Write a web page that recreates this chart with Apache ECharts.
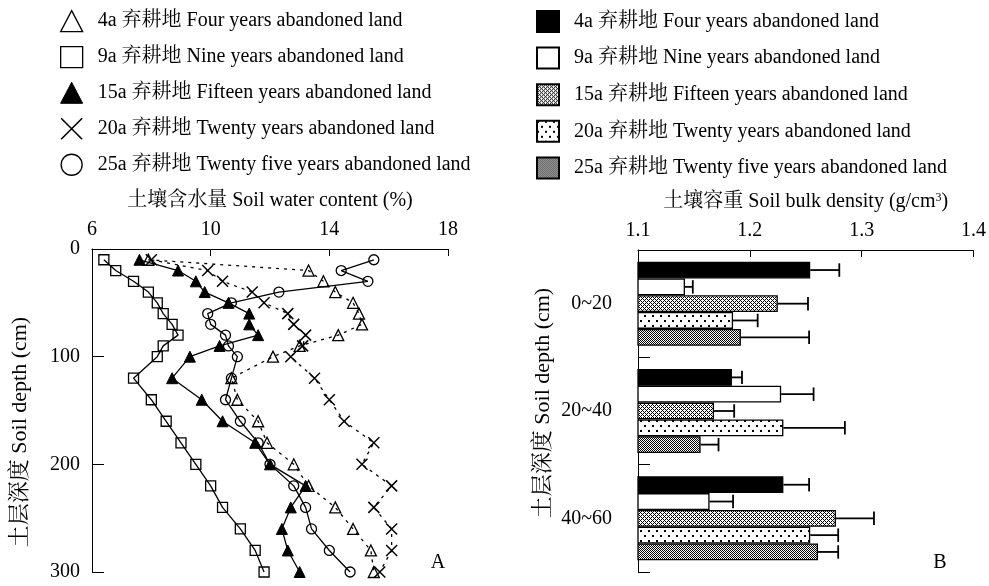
<!DOCTYPE html>
<html><head><meta charset="utf-8">
<script src="https://cdn.jsdelivr.net/npm/echarts@6/dist/echarts.min.js"></script>
<style>html,body{margin:0;padding:0;background:#fff}#c{width:989px;height:586px}</style>
</head><body><div id="c"></div>
<script>
// ---------- data ----------
const depths = [10,20,30,40,50,60,70,80,90,100,120,140,160,180,200,220,240,260,280,300];
const water4a  = [7.9,13.3,13.8,14.2,14.8,15.0,15.1,14.3,13.0,12.1,10.7,10.9,11.6,11.9,12.8,13.3,14.2,14.8,15.4,15.5];
const water9a  = [6.4,6.8,7.4,7.9,8.2,8.4,8.7,8.9,8.4,8.2,7.4,8.0,8.5,9.0,9.5,10.0,10.4,11.0,11.5,11.8];
const water15a = [7.6,8.9,9.5,9.8,10.6,11.3,11.3,11.6,10.3,9.3,8.7,9.7,10.4,11.5,12.0,13.2,12.7,12.4,12.6,13.0];
const water20a = [8.0,9.9,10.4,11.4,11.8,12.6,12.8,13.2,13.1,12.7,13.5,14.0,14.5,15.5,15.1,16.1,15.5,16.1,16.1,15.7];
const water25a = [15.5,14.4,15.3,12.3,10.7,9.9,10.0,10.5,10.6,10.9,10.7,10.5,11.0,11.6,12.0,12.8,13.2,13.4,14.0,14.7];

const layers = ['0~20','20~40','40~60'];
const bulk4a  = [1.254,1.184,1.230], err4a  = [0.026,0.009,0.023];
const bulk9a  = [1.142,1.228,1.164], err9a  = [0.007,0.029,0.021];
const bulk15a = [1.225,1.168,1.277], err15a = [0.027,0.018,0.034];
const bulk20a = [1.185,1.230,1.254], err20a = [0.022,0.055,0.025];
const bulk25a = [1.192,1.156,1.261], err25a = [0.061,0.016,0.018];

const waterTicks = [6,10,14,18];
const densityTicks = [1.1,1.2,1.3,1.4];

const labels = [
  '4a 弃耕地 Four years abandoned land',
  '9a 弃耕地 Nine years abandoned land',
  '15a 弃耕地 Fifteen years abandoned land',
  '20a 弃耕地 Twenty years abandoned land',
  '25a 弃耕地 Twenty five years abandoned land'
];

// ---------- styles ----------
const FONT = '"Liberation Serif","Times New Roman","Noto Serif CJK SC","Noto Sans CJK SC",serif';
const GAP = 0.217;
function pat(w, h, fn){
  const c = document.createElement('canvas'); c.width = w; c.height = h;
  const g = c.getContext('2d'); g.fillStyle = '#fff'; g.fillRect(0,0,w,h); g.fillStyle = '#000';
  for (let x=0;x<w;x++) for (let y=0;y<h;y++) if (fn(x,y)) g.fillRect(x,y,1,1);
  return {image:c, repeat:'repeat'};
}
const p15 = pat(4,4,(x,y)=>((x+y)%4===0)||(((x-y)+4)%4===0));
const p20 = pat(8,10,(x,y)=>((x<2&&y<2)||(x>=4&&x<6&&y>=5&&y<7)));
const p25 = pat(4,4,(x,y)=>((x+y)%2===0)||(x===1&&y%2===1));
const X_PATH = 'path://M0 0L10 10M10 0L0 10';

const chart = echarts.init(document.getElementById('c'), null, {renderer:'canvas'});
const zip = arr => arr.map((v,i)=>[v, depths[i]]);
const hollow = {color:'rgba(0,0,0,0)', borderColor:'#000', borderWidth:1.3};
function lineS(name, arr, symbol, itemStyle, dashed, size){
  return {type:'line', name, xAxisIndex:0, yAxisIndex:0, data:zip(arr), symbol, symbolSize:size||10,
    itemStyle, lineStyle:{color:'#000', width:1.3, type: dashed ? [3,5] : 'solid'}, z:3, animation:false};
}
function barS(name, arr, color){
  return {type:'bar', name, xAxisIndex:1, yAxisIndex:1, data:arr, barGap:'0%', barCategoryGap:(GAP*100)+'%',
    itemStyle:{color, borderColor:'#000', borderWidth:1.3}, animation:false};
}
const bulks = [bulk4a,bulk9a,bulk15a,bulk20a,bulk25a];
const errs = [err4a,err9a,err15a,err20a,err25a];
const errData = [];
bulks.forEach((b,s)=>b.forEach((v,c)=>errData.push([v, c, errs[s][c], s])));

const axisText = {color:'#000', fontFamily:FONT, fontSize:20};
const legendCommon = {orient:'vertical', padding:0, itemWidth:22, itemHeight:21, itemGap:13.6,
  textStyle:{color:'#000', fontFamily:FONT, fontSize:20, padding:[0,0,0,10]}, selectedMode:false,
  formatter: n => labels[+n.slice(1)]};
const titleFont = '22px ' + FONT;

chart.setOption({
  backgroundColor:'#fff',
  animation:false,
  grid:[
    {left:92, top:249, width:356, height:323},
    {left:638, top:250, width:338, height:322}
  ],
  xAxis:[
    {type:'value', gridIndex:0, position:'top', min:6, max:18, interval:4,
     axisLine:{show:true, lineStyle:{color:'#000', width:1}},
     axisTick:{show:true, inside:true, length:7, lineStyle:{color:'#000'}},
     axisLabel:Object.assign({margin:9}, axisText), splitLine:{show:false},
     name:'土壤含水量 Soil water content (%)', nameLocation:'middle', nameGap:38,
     nameTextStyle:{color:'#000', fontFamily:FONT, fontSize:20}},
    {type:'value', gridIndex:1, position:'top', min:1.1, max:1.4, interval:0.1,
     axisLine:{show:true, lineStyle:{color:'#000', width:1}},
     axisTick:{show:true, inside:true, length:7, lineStyle:{color:'#000'}},
     axisLabel:Object.assign({margin:9, formatter: v => v.toFixed(1)}, axisText), splitLine:{show:false},
     name:'{a|土壤容重 Soil bulk density (g/cm}{s|3}{a|)}', nameLocation:'middle', nameGap:38,
     nameTextStyle:{rich:{a:{color:'#000', fontFamily:FONT, fontSize:20}, s:{color:'#000', fontFamily:FONT, fontSize:12, verticalAlign:'top', padding:[0,0,8,0]}}}}
  ],
  yAxis:[
    {type:'value', gridIndex:0, inverse:true, min:0, max:300, interval:100,
     axisLine:{show:true, lineStyle:{color:'#000', width:1}},
     axisTick:{show:true, inside:true, length:12, lineStyle:{color:'#000'}},
     axisLabel:Object.assign({margin:12}, axisText), splitLine:{show:false}},
    {type:'category', gridIndex:1, inverse:true, data:layers,
     axisLine:{show:true, lineStyle:{color:'#000', width:1}},
     axisTick:{show:true, inside:true, length:12, lineStyle:{color:'#000'}},
     axisLabel:Object.assign({margin:26}, axisText), splitLine:{show:false}}
  ],
  legend:[
    Object.assign({left:60, top:10, data:[
      {name:'L0', icon:'triangle', itemStyle:hollow},
      {name:'L1', icon:'rect', itemStyle:hollow},
      {name:'L2', icon:'triangle', itemStyle:{color:'#000', borderColor:'#000', borderWidth:1}},
      {name:'L3', icon:X_PATH, itemStyle:{color:'rgba(0,0,0,0)', borderColor:'#000', borderWidth:1.6}},
      {name:'L4', icon:'circle', itemStyle:hollow}
    ]}, legendCommon),
    Object.assign({left:536, top:10, data:['B0','B1','B2','B3','B4'].map(n=>({name:n, icon:'rect'}))}, legendCommon)
  ],
  graphic:[
    {type:'text', id:'ytl', x:20, y:432, rotation:Math.PI/2,
     style:{text:'土层深度 Soil depth (cm)', fill:'#000', font:titleFont, textAlign:'center', textVerticalAlign:'middle'}},
    {type:'text', id:'ytr', x:543, y:403, rotation:Math.PI/2,
     style:{text:'土层深度 Soil depth (cm)', fill:'#000', font:titleFont, textAlign:'center', textVerticalAlign:'middle'}},
    {type:'text', id:'la', x:438, y:563, style:{text:'A', fill:'#000', font:'20px '+FONT, textAlign:'center', textVerticalAlign:'middle'}},
    {type:'text', id:'lb', x:940, y:563, style:{text:'B', fill:'#000', font:'20px '+FONT, textAlign:'center', textVerticalAlign:'middle'}}
  ],
  series:[
    lineS('L0', water4a, 'triangle', hollow, true, 11),
    lineS('L1', water9a, 'rect', hollow, false, 10),
    lineS('L2', water15a, 'triangle', {color:'#000', borderColor:'#000', borderWidth:1}, false, 11),
    lineS('L3', water20a, X_PATH, {color:'rgba(0,0,0,0)', borderColor:'#000', borderWidth:1.5}, true, 11),
    lineS('L4', water25a, 'circle', hollow, false, 10),
    barS('B0', bulk4a, '#000'),
    barS('B1', bulk9a, '#fff'),
    barS('B2', bulk15a, p15),
    barS('B3', bulk20a, p20),
    barS('B4', bulk25a, p25),
    {type:'custom', xAxisIndex:1, yAxisIndex:1, data:errData, z:5, animation:false,
     encode:{x:0, y:1},
     renderItem(params, api){
       const v = api.value(0), c = api.value(1), e = api.value(2), s = api.value(3);
       const p0 = api.coord([v, c]);
       const p1 = api.coord([v + e, c]);
       const band = api.size([0, 1])[1];
       const bw = band * (1 - GAP) / 5;
       const y = p0[1] + (s - 2) * bw;
       const h = bw * 0.4;
       const st = {stroke:'#000', lineWidth:1.8};
       return {type:'group', children:[
         {type:'line', shape:{x1:p0[0], y1:y, x2:p1[0], y2:y}, style:st},
         {type:'line', shape:{x1:p1[0], y1:y-h, x2:p1[0], y2:y+h}, style:st}
       ]};
     }}
  ]
});
</script></body></html>
